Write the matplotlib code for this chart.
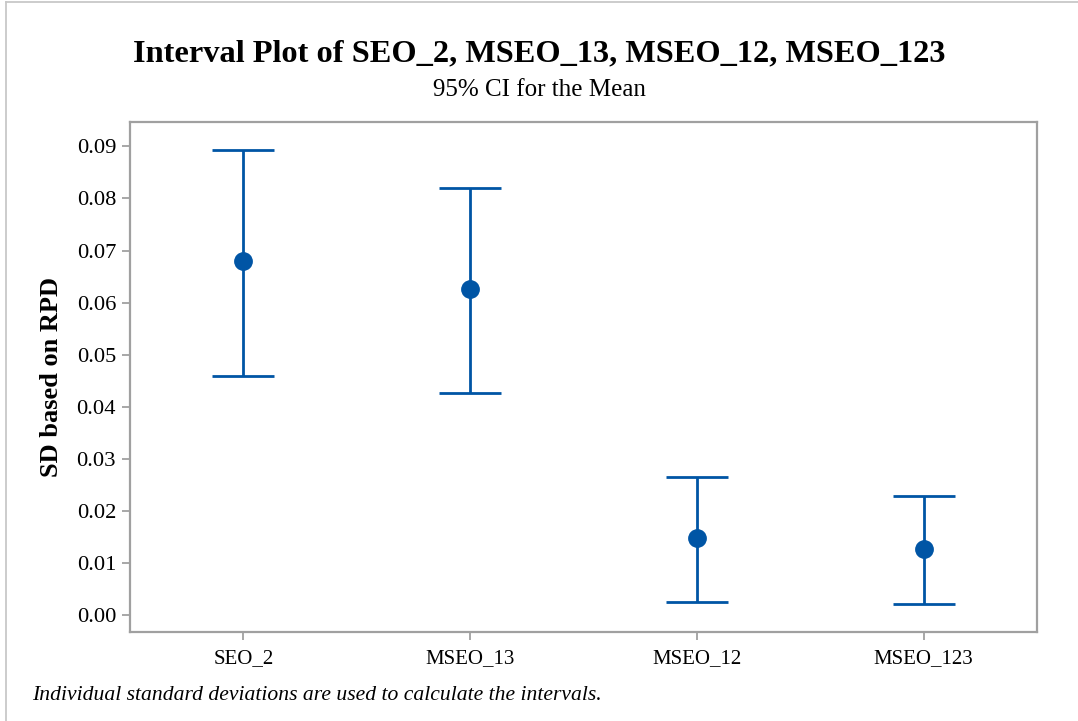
import matplotlib
matplotlib.use("Agg")
import matplotlib.pyplot as plt
from matplotlib.lines import Line2D

categories = ["SEO_2", "MSEO_13", "MSEO_12", "MSEO_123"]
means = [0.0680, 0.0626, 0.0148, 0.0126]
lower = [0.0459, 0.0426, 0.0025, 0.0021]
upper = [0.0894, 0.0821, 0.0264, 0.0228]
yticks = [0.00, 0.01, 0.02, 0.03, 0.04, 0.05, 0.06, 0.07, 0.08, 0.09]

W, H = 1078, 721
fig = plt.figure(figsize=(W / 100, H / 100), dpi=100)
serif = ["Liberation Serif", "DejaVu Serif"]
blue = "#0055A5"
grey = "#A0A0A0"

ax = fig.add_axes([130 / W, 1 - 632 / H, (1037 - 130) / W, (632 - 122) / H])
x = list(range(len(categories)))
yerr = [[m - l for m, l in zip(means, lower)], [u - m for m, u in zip(means, upper)]]
ax.errorbar(x, means, yerr=yerr, fmt="o", color=blue, ecolor=blue,
            elinewidth=2, capsize=22, capthick=2, markersize=12.5, zorder=3)

ax.set_xlim(-0.5, 3.5)
ax.set_ylim(-0.00333, 0.0947)
ax.set_yticks(yticks)
ax.set_yticklabels([f"{v:.2f}" for v in yticks], fontfamily=serif, fontsize=16.2)
ax.set_xticks(x)
ax.set_xticklabels(categories, fontfamily=serif, fontsize=15)
for s in ax.spines.values():
    s.set_color(grey)
    s.set_linewidth(1.6)
ax.tick_params(axis="both", colors=grey, labelcolor="black", length=6, width=1.3)
ax.tick_params(axis="y", pad=4)
ax.tick_params(axis="x", pad=6)

ax.set_ylabel("SD based on RPD", fontfamily=serif, fontsize=19, fontweight="bold", labelpad=10)

fig.text(0.5, 1 - 54 / H, "Interval Plot of SEO_2, MSEO_13, MSEO_12, MSEO_123",
         ha="center", va="center", fontfamily=serif, fontsize=23.3, fontweight="bold")
fig.text(0.5, 1 - 90 / H, "95% CI for the Mean", ha="center", va="center",
         fontfamily=serif, fontsize=18)
fig.text(32 / W, 1 - 695 / H, "Individual standard deviations are used to calculate the intervals.",
         ha="left", va="center", fontfamily=serif, fontsize=15.6, style="italic")

# figure frame (top and left edges)
fig.add_artist(Line2D([6 / W, 1], [1 - 2 / H, 1 - 2 / H], transform=fig.transFigure,
                      color="#C8C8C8", linewidth=1.3))
fig.add_artist(Line2D([6 / W, 6 / W], [0, 1 - 2 / H], transform=fig.transFigure,
                      color="#C8C8C8", linewidth=1.3))

fig.savefig("out.png", dpi=100)
